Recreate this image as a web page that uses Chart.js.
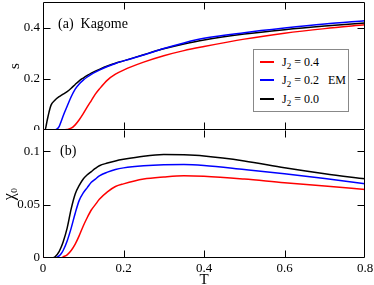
<!DOCTYPE html>
<html>
<head>
    <title>Kagome s and chi0</title>
    <script src="https://cdn.jsdelivr.net/npm/chart.js"></script>
    <style>
        body { margin: 0; background: #fff; }
        #wrap { position: relative; width: 374px; height: 285px; font-family: 'Liberation Serif', serif; }
        #top-box { position: absolute; left: 0; top: 0; width: 374px; height: 130px; }
        #bot-box { position: absolute; left: 0; top: 130px; width: 374px; height: 155px; }
        .note { position: absolute; font-size: 14px; color: #000; white-space: pre; }
        #legend { position: absolute; left: 253px; top: 49px; width: 94px; height: 61px;
                  border: 1px solid #888; background: #fff; font-size: 12px; }
        .row { position: absolute; left: 0; height: 14px; line-height: 14px; white-space: pre; }
        .row i { position: absolute; left: 6px; top: 6px; width: 14px; height: 2px; }
        .row span { position: absolute; left: 28px; top: 0; }
        sub { font-size: 9px; vertical-align: -3px; line-height: 0; }
    </style>
</head>
<body>
<div id="wrap">
    <div id="top-box"><canvas id="chart-s"></canvas></div>
    <div id="bot-box"><canvas id="chart-chi"></canvas></div>
    <div class="note" style="left:58px; top:16px;">(a)  Kagome</div>
    <div class="note" style="left:60px; top:143px;">(b)</div>
    <div id="legend">
        <div class="row" style="top:5px;"><i style="background:#f00"></i><span>J<sub>2</sub> = 0.4</span></div>
        <div class="row" style="top:23px;"><i style="background:#00f"></i><span>J<sub>2</sub> = 0.2   EM</span></div>
        <div class="row" style="top:42px;"><i style="background:#000"></i><span>J<sub>2</sub> = 0.0</span></div>
    </div>
</div>
<script>
    // temperature grid shared by all curves
    const temps = [0, 0.005, 0.01, 0.015, 0.02, 0.03, 0.04, 0.045, 0.05, 0.06, 0.07, 0.08, 0.09, 0.1,
                   0.11, 0.12, 0.13, 0.14, 0.16, 0.18, 0.2, 0.25, 0.3, 0.35, 0.4, 0.5, 0.6, 0.7, 0.8];

    // entropy s(T)
    const sJ04 = [0, 0, 0, 0, 0, 0, 0, 0, 0, 0.002, 0.007, 0.02, 0.04, 0.064,
                  0.09, 0.115, 0.14, 0.16, 0.195, 0.218, 0.234, 0.265, 0.29, 0.31, 0.326, 0.355, 0.378, 0.396, 0.411];
    const sJ02 = [0, 0, 0, 0, 0, 0, 0.013, 0.033, 0.055, 0.093, 0.13, 0.16, 0.18, 0.195,
                  0.207, 0.217, 0.226, 0.234, 0.248, 0.26, 0.27, 0.293, 0.318, 0.34, 0.358, 0.38, 0.398, 0.414, 0.427];
    const sJ00 = [0, 0, 0.035, 0.07, 0.097, 0.117, 0.13, 0.135, 0.14, 0.15, 0.163, 0.178, 0.192, 0.203,
                  0.213, 0.222, 0.23, 0.237, 0.25, 0.261, 0.27, 0.294, 0.317, 0.336, 0.352, 0.375, 0.392, 0.406, 0.418];

    // uniform susceptibility chi0(T)
    const chiJ04 = [0, 0, 0, 0, 0, 0, 0, 0, 0.001, 0.003, 0.007, 0.013, 0.021, 0.03,
                    0.038, 0.045, 0.05, 0.055, 0.062, 0.067, 0.0695, 0.074, 0.076, 0.0772, 0.0767, 0.074, 0.0705, 0.0675, 0.0642];
    const chiJ02 = [0, 0, 0, 0, 0, 0, 0.002, 0.004, 0.007, 0.016, 0.028, 0.042, 0.054, 0.061,
                    0.066, 0.071, 0.074, 0.077, 0.0805, 0.083, 0.0845, 0.0865, 0.0875, 0.0877, 0.0868, 0.083, 0.079, 0.0745, 0.0695];
    const chiJ00 = [0, 0, 0, 0, 0, 0.001, 0.006, 0.01, 0.015, 0.028, 0.046, 0.06, 0.068, 0.074,
                    0.078, 0.081, 0.084, 0.0865, 0.089, 0.091, 0.0925, 0.0955, 0.097, 0.0967, 0.0956, 0.091, 0.0846, 0.079, 0.0742];

    const serif = 'Liberation Serif';
    const fmt = v => String(Number(v.toFixed(3)));

    function pts(ys) {
        return temps.map((t, i) => ({ x: t, y: ys[i] }));
    }

    function line(label, ys, color) {
        return {
            label: label,
            data: pts(ys),
            borderColor: color,
            borderWidth: 1.5,
            pointRadius: 0,
            fill: false,
            cubicInterpolationMode: 'monotone'
        };
    }

    // box round the plot and inward ticks on all four sides
    const framePlugin = {
        id: 'frame',
        afterDatasetsDraw(chart, args, opts) {
            const { ctx, chartArea: a, scales } = chart;
            const L = Math.round(a.left) + 0.5, R = Math.round(a.right) - 0.5;
            const T = Math.round(a.top) + 0.5, B = Math.round(a.bottom) - 0.5;
            ctx.save();
            ctx.strokeStyle = '#000';
            ctx.lineWidth = 1;
            ctx.beginPath();
            ctx.moveTo(L, opts.noTop ? T - 1 : T);
            ctx.lineTo(L, B); ctx.lineTo(R, B); ctx.lineTo(R, opts.noTop ? T - 1 : T);
            if (!opts.noTop) ctx.lineTo(L, T);
            const len = 7;
            scales.x.ticks.forEach(t => {
                if (t.value <= scales.x.min || t.value >= scales.x.max) return;
                const px = Math.round(scales.x.getPixelForValue(t.value)) + 0.5;
                ctx.moveTo(px, B); ctx.lineTo(px, B - len);
                ctx.moveTo(px, T); ctx.lineTo(px, T + len);
            });
            scales.y.ticks.forEach(t => {
                if (t.value <= scales.y.min || t.value >= scales.y.max) return;
                const py = Math.round(scales.y.getPixelForValue(t.value)) + 0.5;
                ctx.moveTo(L, py); ctx.lineTo(L + len, py);
                ctx.moveTo(R, py); ctx.lineTo(R - len, py);
            });
            ctx.stroke();
            ctx.restore();
        }
    };

    function yAxis(max, step, title, titleSize, titlePad) {
        return {
            type: 'linear', min: 0, max: max,
            grid: { display: false, drawTicks: false },
            border: { display: false },
            ticks: { stepSize: step, includeBounds: false, padding: 3, color: '#000',
                     font: { family: serif, size: 13 }, callback: fmt },
            title: { display: true, text: title, color: '#000',
                     font: { family: serif, size: titleSize }, padding: { top: titlePad, bottom: 0 } },
            afterFit(s) { s.width = 43; s.paddingTop = 0; s.paddingBottom = 0; }
        };
    }

    function xAxis(showLabels) {
        return {
            type: 'linear', min: 0, max: 0.8,
            grid: { display: false, drawTicks: false },
            border: { display: false },
            ticks: { display: showLabels, stepSize: 0.2, padding: 3, color: '#000', maxRotation: 0,
                     font: { family: serif, size: 13 }, callback: fmt },
            title: { display: showLabels, text: 'T', color: '#000',
                     font: { family: serif, size: 15, lineHeight: 0.7 }, padding: { top: 0, bottom: 0 } },
            afterFit(s) { s.height = showLabels ? 27 : 0; s.paddingLeft = 0; s.paddingRight = 0; }
        };
    }

    const common = {
        responsive: true,
        maintainAspectRatio: false,
        animation: false,
        plugins: { legend: { display: false }, tooltip: { enabled: false } }
    };

    new Chart(document.getElementById('chart-s'), {
        type: 'line',
        data: { datasets: [line('J2 = 0.4', sJ04, '#ff0000'), line('J2 = 0.2 EM', sJ02, '#0000ff'), line('J2 = 0.0', sJ00, '#000000')] },
        options: Object.assign({}, common, {
            layout: { padding: { top: 2, right: 9, bottom: 0, left: 0 } },
            scales: { x: xAxis(false), y: yAxis(0.5, 0.2, 's', 15, 6) },
            plugins: Object.assign({ frame: {} }, common.plugins)
        }),
        plugins: [framePlugin]
    });

    new Chart(document.getElementById('chart-chi'), {
        type: 'line',
        data: { datasets: [line('J2 = 0.4', chiJ04, '#ff0000'), line('J2 = 0.2 EM', chiJ02, '#0000ff'), line('J2 = 0.0', chiJ00, '#000000')] },
        options: Object.assign({}, common, {
            layout: { padding: { top: 0, right: 9, bottom: 0, left: 0 } },
            scales: { x: xAxis(true), y: yAxis(0.12, 0.05, 'χ₀', 16, 0) },
            plugins: Object.assign({ frame: { noTop: true } }, common.plugins)
        }),
        plugins: [framePlugin]
    });
</script>
</body>
</html>
